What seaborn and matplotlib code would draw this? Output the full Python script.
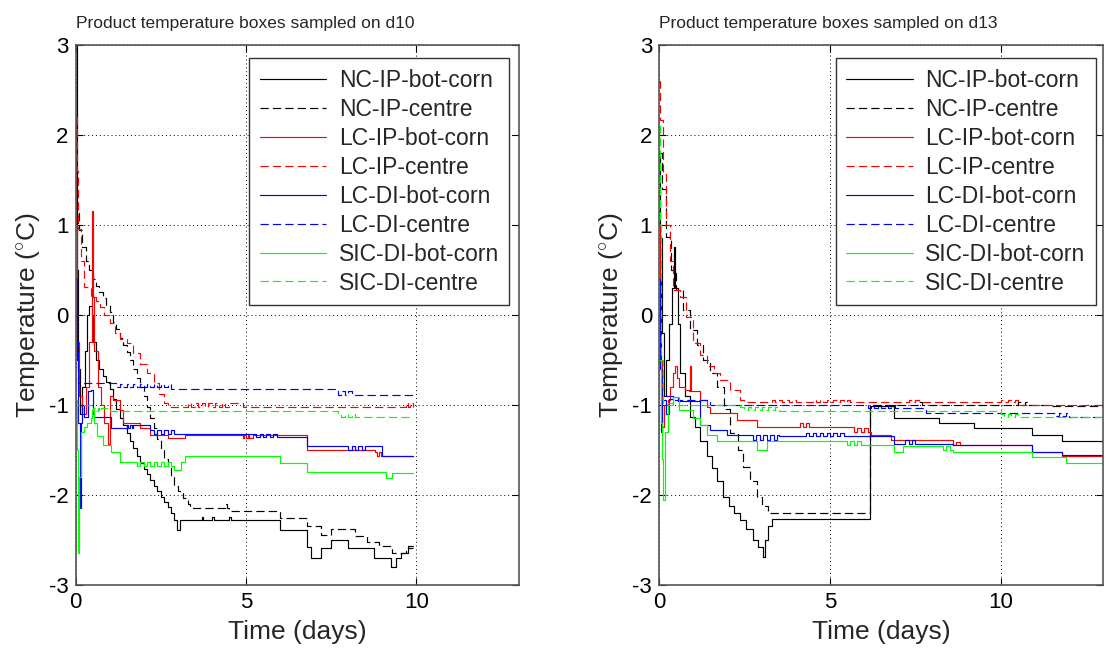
import matplotlib
matplotlib.use("Agg")
import matplotlib.pyplot as plt
import numpy as np
import pandas as pd
import seaborn as sns

# ---------------- data ----------------
series_labels = ["NC-IP-bot-corn", "NC-IP-centre", "LC-IP-bot-corn", "LC-IP-centre",
                 "LC-DI-bot-corn", "LC-DI-centre", "SIC-DI-bot-corn", "SIC-DI-centre"]
panel_titles = ["Product temperature boxes sampled on d10",
                "Product temperature boxes sampled on d13"]
x_ticks = [0, 5, 10]
y_ticks = [-3, -2, -1, 0, 1, 2, 3]

# ----- d10 panel -----
d10_t_nc_bot = [0, 0.03, 0.07, 0.12, 0.2, 0.28, 0.35, 0.4, 0.47, 0.52, 0.6, 0.7, 0.8, 0.9, 1.0, 1.1, 1.2,
                1.3, 1.4, 1.5, 1.6, 1.7, 1.8, 1.9, 2.0, 2.1, 2.2, 2.3, 2.4, 2.5, 2.6, 2.7, 2.8, 2.9, 2.98,
                3.08, 3.7, 3.75, 4.0, 4.05, 4.5, 4.55, 6.0, 6.8, 6.9, 7.2, 7.5, 8.0, 8.75, 9.25, 9.4, 9.55,
                9.75, 9.9]
d10_v_nc_bot = [3.0, 0.5, -0.6, -1.1, -0.8, -0.4, 0.0, 0.1, 0.0, -0.3, -0.5, -0.6, -0.68, -0.74, -0.82,
                -0.93, -1.04, -1.14, -1.22, -1.31, -1.4, -1.48, -1.57, -1.65, -1.71, -1.77, -1.83, -1.9,
                -1.96, -2.02, -2.08, -2.13, -2.2, -2.28, -2.39, -2.28, -2.24, -2.28, -2.24, -2.28, -2.24,
                -2.28, -2.39, -2.58, -2.7, -2.59, -2.5, -2.59, -2.7, -2.8, -2.7, -2.65, -2.57, -2.57]

d10_t_nc_cen = [0.02, 0.07, 0.1, 0.2, 0.3, 0.4, 0.5, 0.6, 0.7, 0.8, 0.9, 1.0, 1.1, 1.2, 1.3, 1.4, 1.5, 1.6,
                1.7, 1.8, 1.9, 2.0, 2.1, 2.2, 2.3, 2.4, 2.5, 2.6, 2.7, 2.8, 2.9, 3.0, 3.15, 3.3, 3.37, 4.4,
                4.45, 4.5, 6.0, 6.8, 7.2, 7.5, 8.2, 8.55, 8.9, 9.3, 9.7, 9.9]
d10_v_nc_cen = [1.02, 1.13, 0.94, 0.75, 0.6, 0.5, 0.4, 0.32, 0.25, 0.19, 0.11, 0.03, -0.08, -0.16, -0.26,
                -0.33, -0.41, -0.5, -0.6, -0.7, -0.8, -0.9, -1.02, -1.14, -1.26, -1.38, -1.5, -1.6, -1.7,
                -1.8, -1.9, -1.96, -2.03, -2.1, -2.14, -2.1, -2.14, -2.18, -2.26, -2.35, -2.44, -2.38,
                -2.46, -2.52, -2.57, -2.65, -2.59, -2.59]

d10_t_lc_ip_bot = [0, 0.02, 0.05, 0.1, 0.2, 0.3, 0.4, 0.47, 0.49, 0.51, 0.55, 0.65, 0.75, 0.85, 0.95, 1.0,
                   1.1, 1.3, 1.4, 1.9, 2.2, 2.7, 3.2, 4.9, 4.95, 5.0, 5.05, 5.1, 5.2, 6.8, 8.8, 8.85, 8.9,
                   8.95, 9.0, 9.9]
d10_v_lc_ip_bot = [2.2, 1.0, -0.3, -0.9, -1.1, -0.8, -0.3, 0.3, 1.15, 0.2, -0.4, -0.8, -1.0, -1.2, -1.43,
                   -0.9, -0.95, -1.06, -1.2, -1.26, -1.33, -1.37, -1.33, -1.37, -1.33, -1.37, -1.33, -1.37,
                   -1.33, -1.5, -1.52, -1.57, -1.52, -1.57, -1.57, -1.57]

d10_t_lc_ip_cen = [0, 0.03, 0.06, 0.15, 0.24, 0.44, 0.6, 0.73, 0.85, 1.0, 1.15, 1.3, 1.5, 1.7, 1.9, 2.1,
                   2.3, 2.45, 2.6, 2.7, 3.3, 3.4, 3.5, 3.6, 3.7, 3.8, 3.9, 4.0, 4.1, 4.2, 4.3, 4.4, 4.5,
                   4.9, 9.7, 9.75, 9.8, 9.9]
d10_v_lc_ip_cen = [2.2, 1.6, 0.95, 0.6, 0.31, 0.2, 0.15, 0.09, 0.0, -0.09, -0.2, -0.27, -0.31, -0.42,
                   -0.55, -0.65, -0.76, -0.88, -0.98, -1.02, -0.98, -1.02, -0.98, -1.02, -0.98, -1.02,
                   -0.98, -1.02, -0.98, -1.02, -0.98, -1.02, -0.98, -1.02, -0.98, -1.02, -0.98, -1.02]

d10_t_lc_di_bot = [0, 0.03, 0.07, 0.12, 0.16, 0.2, 0.25, 0.38, 0.44, 0.5, 0.55, 1.03, 1.5, 1.55, 1.6,
                   1.65, 1.7, 2.2, 2.3, 2.4, 2.5, 2.6, 2.7, 2.8, 2.9, 3.0, 5.3, 5.4, 5.5, 5.6, 5.7, 5.8,
                   5.9, 6.8, 8.0, 8.1, 8.2, 8.3, 8.4, 8.5, 9.0, 9.9]
d10_v_lc_di_bot = [0.4, -0.5, -1.2, -2.15, -1.2, -1.0, -1.13, -0.85, -0.83, -1.1, -1.13, -1.26, -1.22,
                   -1.26, -1.22, -1.26, -1.22, -1.28, -1.32, -1.28, -1.32, -1.28, -1.32, -1.28, -1.32,
                   -1.32, -1.36, -1.32, -1.36, -1.32, -1.36, -1.32, -1.36, -1.46, -1.5, -1.46, -1.5,
                   -1.46, -1.5, -1.46, -1.57, -1.57]

d10_t_lc_di_cen = [0, 0.03, 0.06, 1.2, 1.3, 1.4, 1.5, 1.6, 1.7, 1.8, 1.9, 2.0, 2.1, 2.2, 2.3, 2.4, 2.5,
                   2.6, 2.7, 2.8, 7.7, 7.8, 7.9, 8.0, 8.1, 8.2, 9.9]
d10_v_lc_di_cen = [0.4, -0.3, -0.76, -0.8, -0.77, -0.8, -0.77, -0.8, -0.77, -0.8, -0.77, -0.8, -0.77,
                   -0.8, -0.77, -0.8, -0.77, -0.8, -0.77, -0.82, -0.89, -0.85, -0.89, -0.85, -0.89,
                   -0.89, -0.89]

d10_t_sic_bot = [0, 0.04, 0.08, 0.11, 0.15, 0.25, 0.35, 0.45, 0.49, 0.55, 0.63, 0.8, 1.03, 1.3, 1.8,
                 1.9, 2.0, 2.1, 2.2, 2.3, 2.4, 2.5, 2.6, 2.7, 2.8, 2.9, 3.1, 3.2, 6.0, 6.8, 9.1, 9.3, 9.9]
d10_v_sic_bot = [-0.95, -1.5, -2.65, -1.8, -1.3, -1.25, -1.2, -1.15, -1.06, -1.2, -1.35, -1.45, -1.52,
                 -1.63, -1.68, -1.63, -1.68, -1.63, -1.68, -1.63, -1.68, -1.63, -1.68, -1.63, -1.68,
                 -1.72, -1.63, -1.57, -1.64, -1.75, -1.81, -1.76, -1.76]

d10_t_sic_cen = [0, 0.05, 0.3, 0.5, 0.55, 0.6, 0.65, 0.7, 0.75, 1.0, 7.7, 7.8, 7.9, 8.0, 8.1, 8.2, 9.9]
d10_v_sic_cen = [-0.94, -1.0, -1.0, -1.07, -1.03, -1.07, -1.03, -1.07, -1.03, -1.07, -1.1, -1.13,
                 -1.1, -1.13, -1.1, -1.13, -1.13]

# ----- d13 panel -----
d13_t_nc_bot = [0, 0.03, 0.08, 0.15, 0.2, 0.3, 0.38, 0.44, 0.47, 0.55, 0.61, 0.75, 0.91, 1.05, 1.2, 1.4,
                1.55, 1.7, 1.88, 2.05, 2.2, 2.37, 2.55, 2.76, 2.9, 3.05, 3.1, 3.2, 3.3, 6.16, 6.86, 8.2,
                9.2, 10.9, 11.8, 13.0]
d13_v_nc_bot = [1.8, 0.85, -0.2, -0.9, -0.5, -0.1, 0.3, 0.75, 0.3, -0.1, -0.65, -0.9, -1.13, -1.25,
                -1.4, -1.57, -1.7, -1.85, -2.02, -2.12, -2.2, -2.28, -2.38, -2.5, -2.58, -2.69, -2.5,
                -2.35, -2.27, -1.01, -1.14, -1.2, -1.26, -1.33, -1.4, -1.4]

d13_t_nc_cen = [0, 0.05, 0.1, 0.2, 0.35, 0.5, 0.7, 0.91, 1.1, 1.3, 1.5, 1.69, 1.9, 2.08, 2.3, 2.47, 2.65,
                2.86, 3.0, 3.2, 6.16, 7.6, 7.7, 10.5, 10.6, 10.7, 10.8, 11.5, 13.0]
d13_v_nc_cen = [1.8, 1.8, 1.4, 0.87, 0.5, 0.28, 0.06, -0.17, -0.33, -0.5, -0.65, -0.8, -1.05, -1.31,
                -1.5, -1.69, -1.85, -2.02, -2.12, -2.2, -1.0, -0.97, -1.0, -0.97, -1.0, -0.97, -1.0,
                -1.01, -1.01]

d13_t_lc_ip_bot = [0, 0.04, 0.08, 0.15, 0.25, 0.33, 0.4, 0.46, 0.52, 0.6, 0.75, 0.88, 0.9, 0.93, 1.2,
                   1.4, 1.5, 2.27, 2.86, 4.13, 4.2, 4.3, 4.4, 4.5, 5.7, 5.8, 5.9, 6.0, 6.1, 6.2, 6.8, 8.6,
                   8.7, 8.8, 10.9, 11.8, 11.9, 13.0]
d13_v_lc_ip_bot = [1.0, -0.5, -1.25, -1.0, -0.95, -0.8, -0.65, -0.57, -0.7, -0.8, -0.83, -0.85, -0.57,
                   -0.85, -0.95, -1.02, -1.09, -1.17, -1.24, -1.2, -1.24, -1.2, -1.24, -1.24, -1.3,
                   -1.26, -1.3, -1.26, -1.3, -1.33, -1.39, -1.45, -1.41, -1.45, -1.52, -1.57, -1.57,
                   -1.57]

d13_t_lc_ip_cen = [0, 0.03, 0.12, 0.22, 0.32, 0.42, 0.61, 0.8, 1.0, 1.2, 1.4, 1.6, 1.79, 2.08, 2.37,
                   2.5, 3.3, 3.4, 3.5, 3.6, 3.7, 3.8, 3.9, 4.0, 4.5, 4.6, 4.7, 4.8, 4.9, 5.0, 5.1, 5.2,
                   5.3, 5.4, 5.5, 5.6, 7.3, 7.4, 7.5, 7.6, 10.0, 10.1, 10.2, 10.3, 10.4, 10.5, 13.0]
d13_v_lc_ip_cen = [2.6, 2.17, 1.57, 1.0, 0.6, 0.28, 0.2, -0.02, -0.31, -0.45, -0.57, -0.65, -0.72,
                   -0.83, -0.94, -0.97, -0.94, -0.97, -0.94, -0.97, -0.94, -0.97, -0.94, -0.97, -0.94,
                   -0.97, -0.94, -0.97, -0.94, -0.97, -0.94, -0.97, -0.94, -0.97, -0.94, -0.97, -0.94,
                   -0.97, -0.94, -0.97, -0.94, -0.97, -0.94, -0.97, -0.94, -1.0, -1.0]

d13_t_lc_di_bot = [0, 0.03, 0.06, 0.1, 0.2, 0.3, 0.42, 0.55, 1.2, 1.5, 2.0, 2.76, 2.85, 2.95, 3.05,
                   3.15, 3.25, 3.35, 3.45, 3.5, 4.3, 4.4, 4.5, 4.6, 4.7, 4.8, 4.9, 5.0, 5.1, 5.2, 5.3,
                   5.4, 5.5, 6.86, 7.2, 7.3, 7.4, 7.5, 7.6, 8.6, 10.9, 11.8, 13.0]
d13_v_lc_di_bot = [0.4, -0.6, -1.3, -0.95, -1.1, -0.93, -0.91, -0.96, -1.22, -1.28, -1.33, -1.39,
                   -1.33, -1.39, -1.33, -1.39, -1.33, -1.39, -1.33, -1.35, -1.31, -1.35, -1.31, -1.35,
                   -1.31, -1.35, -1.31, -1.35, -1.31, -1.35, -1.31, -1.35, -1.35, -1.43, -1.39, -1.43,
                   -1.39, -1.43, -1.43, -1.45, -1.52, -1.56, -1.56]

d13_t_lc_di_cen = [0, 0.05, 0.1, 0.4, 1.5, 6.1, 6.2, 6.3, 6.4, 6.5, 6.6, 6.7, 6.8, 6.9, 7.0, 7.8, 11.6,
                   11.7, 11.8, 11.9, 12.0, 13.0]
d13_v_lc_di_cen = [0.4, -0.6, -0.9, -0.94, -1.0, -1.03, -1.0, -1.03, -1.0, -1.03, -1.0, -1.03, -1.0,
                   -1.03, -1.03, -1.09, -1.12, -1.09, -1.12, -1.09, -1.13, -1.13]

d13_t_sic_bot = [0, 0.06, 0.1, 0.13, 0.17, 0.25, 0.42, 0.6, 1.0, 1.2, 1.4, 1.7, 2.86, 3.15, 5.5, 5.6,
                 5.7, 5.8, 5.9, 6.86, 7.15, 8.3, 8.4, 8.5, 8.6, 10.9, 11.9, 13.0]
d13_v_sic_bot = [-0.5, -1.2, -1.6, -2.06, -1.3, -1.0, -0.91, -1.06, -1.15, -1.22, -1.33, -1.4, -1.5,
                 -1.4, -1.44, -1.4, -1.44, -1.4, -1.44, -1.52, -1.46, -1.5, -1.46, -1.5, -1.52, -1.58,
                 -1.64, -1.64]

d13_t_sic_cen = [0, 0.03, 0.07, 0.12, 0.4, 2.37, 2.5, 2.6, 2.7, 2.8, 2.9, 3.0, 3.1, 3.2, 3.3, 3.4, 3.5,
                 10.0, 10.1, 10.2, 10.3, 10.4, 10.5, 13.0]
d13_v_sic_cen = [2.1, 1.0, -0.5, -0.98, -1.0, -1.02, -1.06, -1.02, -1.06, -1.02, -1.06, -1.02, -1.06,
                 -1.02, -1.06, -1.02, -1.07, -1.1, -1.13, -1.1, -1.13, -1.1, -1.13, -1.13]

panel_data = [
    [(d10_t_nc_bot, d10_v_nc_bot), (d10_t_nc_cen, d10_v_nc_cen),
     (d10_t_lc_ip_bot, d10_v_lc_ip_bot), (d10_t_lc_ip_cen, d10_v_lc_ip_cen),
     (d10_t_lc_di_bot, d10_v_lc_di_bot), (d10_t_lc_di_cen, d10_v_lc_di_cen),
     (d10_t_sic_bot, d10_v_sic_bot), (d10_t_sic_cen, d10_v_sic_cen)],
    [(d13_t_nc_bot, d13_v_nc_bot), (d13_t_nc_cen, d13_v_nc_cen),
     (d13_t_lc_ip_bot, d13_v_lc_ip_bot), (d13_t_lc_ip_cen, d13_v_lc_ip_cen),
     (d13_t_lc_di_bot, d13_v_lc_di_bot), (d13_t_lc_di_cen, d13_v_lc_di_cen),
     (d13_t_sic_bot, d13_v_sic_bot), (d13_t_sic_cen, d13_v_sic_cen)],
]

# ---------------- style ----------------
series_colors = ["#000000", "#000000", "#ff0000", "#ff0000", "#0000ff", "#0000ff", "#00ff00", "#00ff00"]
series_dashed = [False, True, False, True, False, True, False, True]

sns.set_theme(style="white")
plt.rcParams["font.family"] = ["Liberation Sans", "DejaVu Sans"]
plt.rcParams["mathtext.fontset"] = "custom"
plt.rcParams["mathtext.rm"] = "Liberation Sans"
plt.rcParams["mathtext.it"] = "Liberation Sans:italic"

fig = plt.figure(figsize=(11.09, 6.51), dpi=100)
ax_rects = [[0.0681, 0.1014, 0.3995, 0.8295], [0.5942, 0.1014, 0.4008, 0.8295]]
legend_anchor = [(0.979, 0.975), (0.983, 0.975)]

for p in range(2):
    ax = fig.add_axes(ax_rects[p])
    for i, (tt, vv) in enumerate(panel_data[p]):
        df = pd.DataFrame({"t": tt, "v": vv})
        ls = (0, (7, 3.5)) if series_dashed[i] else "-"
        sns.lineplot(data=df, x="t", y="v", ax=ax, color=series_colors[i], linestyle=ls,
                     linewidth=0.85, drawstyle="steps-post", estimator=None, sort=False,
                     errorbar=None, label=series_labels[i])
    ax.set_xlim(0, 13)
    ax.set_ylim(-3, 3)
    ax.set_xticks(x_ticks)
    ax.set_yticks(y_ticks)
    ax.set_xticklabels([str(v) for v in x_ticks])
    ax.set_yticklabels([str(v) for v in y_ticks])
    ax.grid(True, color="black", linestyle=(0, (1, 3)), linewidth=0.7)
    ax.tick_params(direction="in", top=True, right=True, length=5, width=0.8,
                   labelsize=16, pad=5, colors="black", bottom=True, left=True)
    for s in ax.spines.values():
        s.set_color("#555555")
        s.set_linewidth(1.2)
    ax.set_xlabel("Time (days)", fontsize=19, labelpad=5)
    ax.set_ylabel(r"Temperature ($^{\circ}$C)", fontsize=19, labelpad=5)
    ax.set_title(panel_titles[p], fontsize=12.5, loc="left", pad=12)
    leg = ax.legend(loc="upper right", bbox_to_anchor=legend_anchor[p], borderaxespad=0,
                    fontsize=16.5, frameon=True, fancybox=False, edgecolor="#333333",
                    handlelength=2.9, handletextpad=0.55, labelspacing=0.26, borderpad=0.45)
    leg.get_frame().set_linewidth(1.0)
    leg.get_frame().set_facecolor("white")
    leg.get_frame().set_alpha(1.0)

fig.savefig("out.png", dpi=100)
